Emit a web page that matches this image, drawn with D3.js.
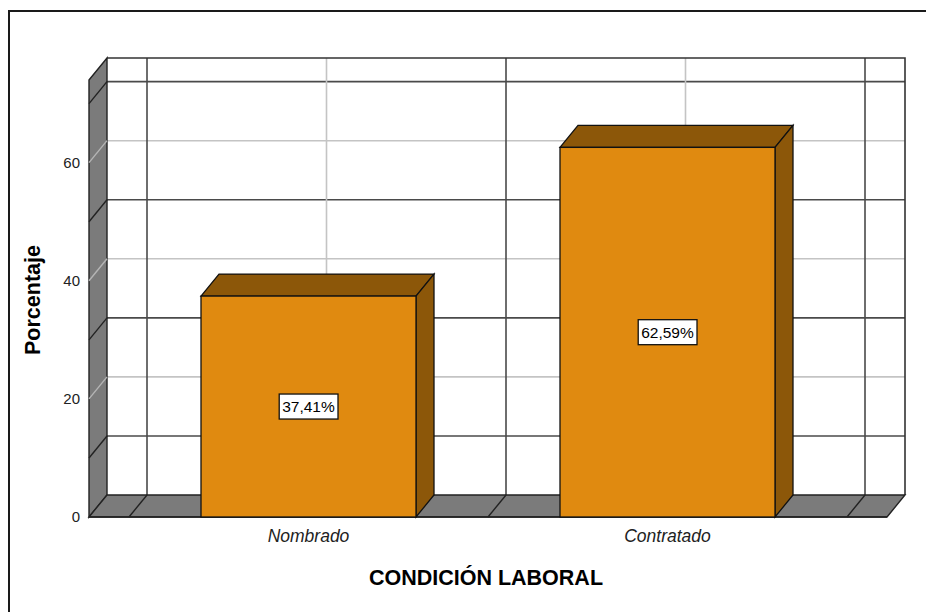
<!DOCTYPE html>
<html>
<head>
<meta charset="utf-8">
<script src="https://cdn.jsdelivr.net/npm/d3@7"></script>
<style>
  body { margin: 0; background: #fff; }
  text { font-family: "Liberation Sans", Arial, sans-serif; }
</style>
</head>
<body>
<svg id="chart" width="926" height="612"></svg>
<script>
const categories = ["Nombrado", "Contratado"];
const values = [37.41, 62.59];
const valueLabels = ["37,41%", "62,59%"];
const yTicks = [0, 20, 40, 60];
const gridValues = [10, 20, 30, 40, 50, 60, 70];

const svg = d3.select("#chart");

// depth offset of the 3D box (front -> back)
const dx = 18, dy = 22;

// back wall coordinates
const wallLeft = 107, wallRight = 905;
const x = d3.scaleBand().domain(categories).range([147, 865]).padding(0);
const y = d3.scaleLinear().domain([0, 74]).range([495, 58]);
const barW = 215;

const wallColor = "#7b7b7b";
const dark = "#4a4a4a";
const light = "#c4c4c4";

// outer frame
svg.append("path")
  .attr("d", "M9,612 V11 H926")
  .attr("fill", "none").attr("stroke", "#1a1a1a").attr("stroke-width", 2);

// back wall
svg.append("rect")
  .attr("x", wallLeft).attr("y", y(74))
  .attr("width", wallRight - wallLeft).attr("height", y(0) - y(74))
  .attr("fill", "#fff");

// horizontal gridlines on back wall
svg.selectAll(".hgrid").data(gridValues).enter().append("line")
  .attr("x1", wallLeft).attr("x2", wallRight)
  .attr("y1", d => y(d)).attr("y2", d => y(d))
  .attr("stroke", d => d % 20 === 0 ? light : dark)
  .attr("stroke-width", 1.6);

// vertical gridlines on back wall
const boundaries = [x.range()[0], ...categories.map(c => x(c) + x.bandwidth())];
const centers = categories.map(c => x(c) + x.bandwidth() / 2);
svg.selectAll(".vgridc").data(centers).enter().append("line")
  .attr("x1", d => d).attr("x2", d => d)
  .attr("y1", y(74)).attr("y2", y(0))
  .attr("stroke", light).attr("stroke-width", 1.6);
svg.selectAll(".vgridb").data(boundaries).enter().append("line")
  .attr("x1", d => d).attr("x2", d => d)
  .attr("y1", y(74)).attr("y2", y(0))
  .attr("stroke", dark).attr("stroke-width", 1.6);

// back wall outline (top and right)
svg.append("path")
  .attr("d", `M${wallLeft},${y(74)} H${wallRight} V${y(0)}`)
  .attr("fill", "none").attr("stroke", "#333").attr("stroke-width", 1.6);

// left wall
svg.append("path")
  .attr("d", `M${wallLeft - dx},${y(74) + dy} L${wallLeft},${y(74)} L${wallLeft},${y(0)} L${wallLeft - dx},${y(0) + dy} Z`)
  .attr("fill", wallColor).attr("stroke", "#222").attr("stroke-width", 1.4);
svg.selectAll(".lgrid").data(gridValues).enter().append("line")
  .attr("x1", wallLeft - dx).attr("x2", wallLeft)
  .attr("y1", d => y(d) + dy).attr("y2", d => y(d))
  .attr("stroke", d => d % 20 === 0 ? "#b5b5b5" : "#222")
  .attr("stroke-width", 1.4);

// floor
svg.append("path")
  .attr("d", `M${wallLeft - dx},${y(0) + dy} L${wallLeft},${y(0)} L${wallRight},${y(0)} L${wallRight - dx},${y(0) + dy} Z`)
  .attr("fill", wallColor).attr("stroke", "#222").attr("stroke-width", 1.4);
svg.selectAll(".fgrid").data(boundaries).enter().append("line")
  .attr("x1", d => d - dx).attr("x2", d => d)
  .attr("y1", y(0) + dy).attr("y2", y(0))
  .attr("stroke", "#222").attr("stroke-width", 1.4);
svg.append("line")
  .attr("x1", wallLeft - dx).attr("x2", wallRight - dx)
  .attr("y1", y(0) + dy).attr("y2", y(0) + dy)
  .attr("stroke", "#222").attr("stroke-width", 1.6);

// bars
const bars = categories.map((c, i) => {
  const cx = x(c) + x.bandwidth() / 2 - dx;
  return { c, v: values[i], label: valueLabels[i], x0: cx - barW / 2, x1: cx + barW / 2, yt: y(values[i]) + dy, yb: y(0) + dy };
});
const g = svg.selectAll(".bar").data(bars).enter().append("g");
g.append("path")
  .attr("d", d => `M${d.x0},${d.yt} L${d.x0 + dx},${d.yt - dy} L${d.x1 + dx},${d.yt - dy} L${d.x1},${d.yt} Z`)
  .attr("fill", "#8c5709").attr("stroke", "#111").attr("stroke-width", 1.3);
g.append("path")
  .attr("d", d => `M${d.x1},${d.yt} L${d.x1 + dx},${d.yt - dy} L${d.x1 + dx},${d.yb - dy} L${d.x1},${d.yb} Z`)
  .attr("fill", "#8c5709").attr("stroke", "#111").attr("stroke-width", 1.3);
g.append("rect")
  .attr("x", d => d.x0).attr("y", d => d.yt)
  .attr("width", d => d.x1 - d.x0).attr("height", d => d.yb - d.yt)
  .attr("fill", "#e08a10").attr("stroke", "#111").attr("stroke-width", 1.3);

// value labels
g.each(function (d) {
  const cx = (d.x0 + d.x1) / 2, cy = (d.yt + d.yb) / 2;
  const t = d3.select(this).append("text")
    .attr("x", cx).attr("y", cy + 5.5)
    .attr("text-anchor", "middle").attr("font-size", 15.5).attr("fill", "#000")
    .text(d.label);
  const bb = t.node().getBBox();
  d3.select(this).insert("rect", "text")
    .attr("x", bb.x - 3).attr("y", cy - 12.5)
    .attr("width", bb.width + 6).attr("height", 25)
    .attr("fill", "#fff").attr("stroke", "#111").attr("stroke-width", 1.3);
});

// y tick labels (front plane)
svg.selectAll(".ytick").data(yTicks).enter().append("text")
  .attr("x", 80).attr("y", d => y(d) + dy + 5)
  .attr("text-anchor", "end").attr("font-size", 15).attr("fill", "#222")
  .text(d => d);

// category labels
svg.selectAll(".xlab").data(categories).enter().append("text")
  .attr("x", d => x(d) + x.bandwidth() / 2 - dx).attr("y", 542)
  .attr("text-anchor", "middle").attr("font-size", 17.5).attr("font-style", "italic").attr("fill", "#222")
  .text(d => d);

// axis titles
svg.append("text")
  .attr("x", 486).attr("y", 585)
  .attr("text-anchor", "middle").attr("font-size", 21.5).attr("font-weight", "bold")
  .text("CONDICIÓN LABORAL");
svg.append("text")
  .attr("transform", "translate(40,300) rotate(-90)")
  .attr("text-anchor", "middle").attr("font-size", 21.5).attr("font-weight", "bold")
  .text("Porcentaje");
</script>
</body>
</html>
